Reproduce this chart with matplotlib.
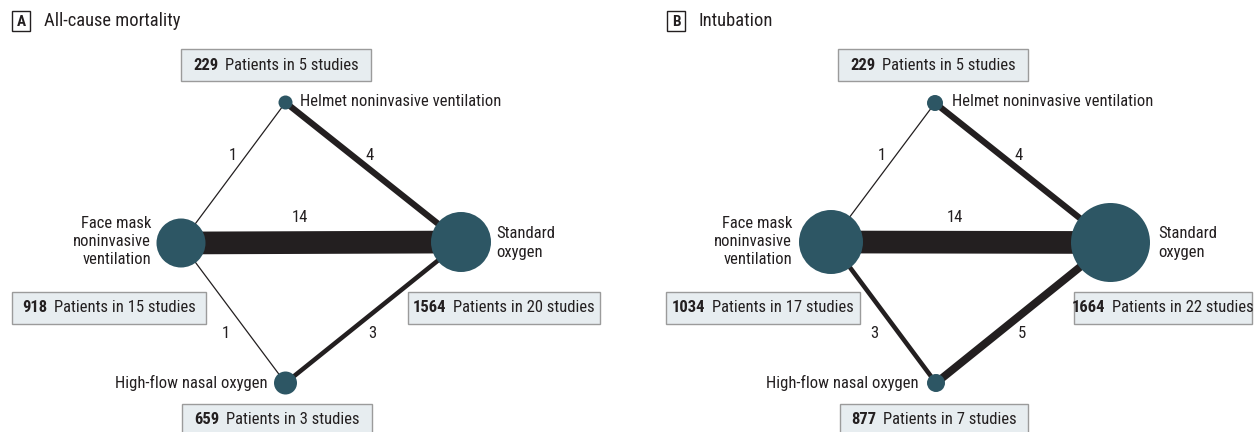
import matplotlib
matplotlib.use("Agg")
import matplotlib.pyplot as plt
from matplotlib.patches import Circle, Rectangle
from matplotlib.offsetbox import TextArea, HPacker, AnnotationBbox

plt.rcParams['font.family'] = ['Roboto Condensed', 'DejaVu Sans']

# ---------------- data ----------------
treatments = ["Helmet noninvasive ventilation",
              "Face mask\nnoninvasive\nventilation",
              "Standard\noxygen",
              "High-flow nasal oxygen"]

# Panel A: all-cause mortality
mort_patients = [229, 918, 1564, 659]
mort_studies = [5, 15, 20, 3]
mort_edge_from = [0, 0, 1, 1, 3]
mort_edge_to = [1, 2, 2, 3, 2]
mort_edge_n = [1, 4, 14, 1, 3]

# Panel B: intubation
intub_patients = [229, 1034, 1664, 877]
intub_studies = [5, 17, 22, 7]
intub_edge_from = [0, 0, 1, 1, 3]
intub_edge_to = [1, 2, 2, 3, 2]
intub_edge_n = [1, 4, 14, 3, 5]

# ---------------- layout / style ----------------
NODE_COLOR = "#2d5664"
EDGE_COLOR = "#231f20"
TEXT_COLOR = "#231f20"
BOX_FACE = "#e7edf0"
BOX_EDGE = "#9b9b9b"
FS = 12

panels = [
    dict(letter="A", title="All-cause mortality", lx=12, tx=44,
         patients=mort_patients, studies=mort_studies,
         efrom=mort_edge_from, eto=mort_edge_to, en=mort_edge_n,
         pos=[(285.5, 102.5), (181, 243), (461, 242), (285.5, 383)],
         radius=[7, 24.5, 30, 11.5],
         edge_lbl=[(233, 155), (370, 155), (300, 218), (226, 334), (372, 334)],
         node_lbl=[(300, 101, 'left'), (151, 242, 'right'), (496, 243, 'left'), (268, 383, 'right')],
         boxes=[(181, 371, 49, 81), (12, 206, 292, 324), (408, 600, 292, 324), (182, 372, 404, 436)]),
    dict(letter="B", title="Intubation", lx=667, tx=699,
         patients=intub_patients, studies=intub_studies,
         efrom=intub_edge_from, eto=intub_edge_to, en=intub_edge_n,
         pos=[(935, 103), (831, 242), (1110.5, 242.5), (936, 383)],
         radius=[8, 32, 39.5, 9],
         edge_lbl=[(882, 155), (1019, 155), (955, 218), (874, 334), (1022, 334)],
         node_lbl=[(952, 101, 'left'), (792, 242, 'right'), (1158, 243, 'left'), (919, 383, 'right')],
         boxes=[(838, 1028, 49, 81), (666, 860, 292, 324), (1074, 1252, 292, 324), (840, 1028, 404, 436)]),
]

fig = plt.figure(figsize=(12.54, 4.32), dpi=100)
ax = fig.add_axes([0, 0, 1, 1])
ax.set_xlim(0, 1254)
ax.set_ylim(432, 0)
ax.axis('off')

PX = 72.0 / 100.0  # points per pixel


def edge_width_px(n):
    return 1.65 * n - 0.4


for p in panels:
    # panel header
    ax.add_patch(Rectangle((p["lx"], 11), 18, 20, facecolor="white",
                           edgecolor=TEXT_COLOR, linewidth=1.0, zorder=5))
    ax.text(p["lx"] + 9, 21.5, p["letter"], ha='center', va='center',
            fontsize=11, fontweight='bold', color=TEXT_COLOR, zorder=6)
    ax.text(p["tx"], 21, p["title"], ha='left', va='center', fontsize=13.3,
            color=TEXT_COLOR)

    pos = p["pos"]
    # edges
    for a, b, n, (lxp, lyp) in zip(p["efrom"], p["eto"], p["en"], p["edge_lbl"]):
        ax.plot([pos[a][0], pos[b][0]], [pos[a][1], pos[b][1]],
                color=EDGE_COLOR, linewidth=edge_width_px(n) * PX,
                solid_capstyle='butt', zorder=1)
        ax.text(lxp, lyp, str(n), ha='center', va='center', fontsize=FS,
                color=TEXT_COLOR, zorder=3)

    # nodes
    for (x, y), r in zip(pos, p["radius"]):
        ax.add_patch(Circle((x, y), r, facecolor=NODE_COLOR,
                            edgecolor='none', zorder=2))

    # node labels
    for name, (x, y, ha) in zip(treatments, p["node_lbl"]):
        ax.text(x, y, name, ha=ha, va='center', fontsize=FS,
                color=TEXT_COLOR, linespacing=1.25, zorder=3)

    # patient/study boxes
    for npat, nst, (x0, x1, y0, y1) in zip(p["patients"], p["studies"], p["boxes"]):
        ax.add_patch(Rectangle((x0, y0), x1 - x0, y1 - y0, facecolor=BOX_FACE,
                               edgecolor=BOX_EDGE, linewidth=1.0, zorder=4))
        t1 = TextArea(str(npat), textprops=dict(fontsize=FS, fontweight='bold',
                                                color=TEXT_COLOR))
        t2 = TextArea(f"Patients in {nst} studies",
                      textprops=dict(fontsize=FS, color=TEXT_COLOR))
        pack = HPacker(children=[t1, t2], align='baseline', pad=0, sep=5)
        cy = min((y0 + y1) / 2, 420)
        ab = AnnotationBbox(pack, ((x0 + x1) / 2, cy), xycoords='data',
                            frameon=False, box_alignment=(0.5, 0.5), pad=0,
                            zorder=5)
        ax.add_artist(ab)

fig.savefig("out.png", dpi=100)
